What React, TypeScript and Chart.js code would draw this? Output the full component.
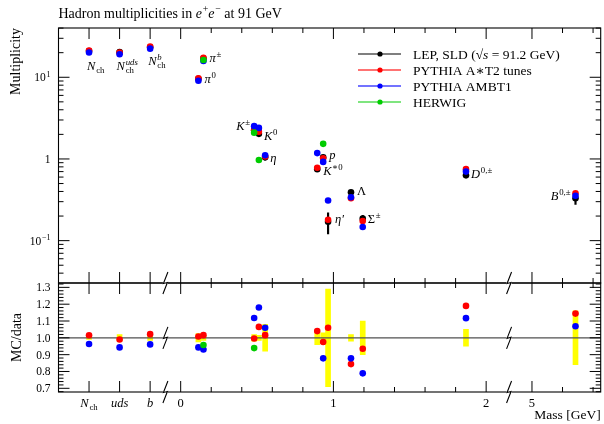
import React, { useEffect, useRef } from "react";
import { Chart, registerables } from "chart.js";
Chart.register(...registerables);

const W = 604;
const H = 424;
const SERIF = '"Liberation Serif", "DejaVu Serif", serif';

// ---------------- data ----------------
const particles = ["Nch", "Nch_uds", "Nch_b", "pi0", "pi+-", "K+-", "K0", "eta", "K*0", "p", "eta'", "Lambda", "Sigma+-", "D0,+-", "B0,+-"];
const massGeV: (number | null)[] = [null, null, null, 0.116, 0.149, 0.481, 0.512, 0.553, 0.894, 0.933, 0.965, 1.115, 1.192, 1.868, 5.285];
const dataMult = [20.9, 20.3, 23.3, 9.6, 17.0, 2.24, 2.03, 1.05, 0.75, 1.05, 0.17, 0.39, 0.186, 0.63, 0.33];
const dataRelErr = [0.01, 0.02, 0.015, 0.025, 0.015, 0.02, 0.015, 0.08, 0.04, 0.03, 0.29, 0.02, 0.1, 0.05, 0.16];
const mcA: (number | null)[] = [21.2, 20.1, 23.8, 9.7, 17.3, 2.23, 2.16, 1.07, 0.78, 1.02, 0.18, 0.33, 0.174, 0.75, 0.38];
const mcB: (number | null)[] = [20.1, 19.1, 22.4, 9.05, 15.8, 2.52, 2.4, 1.11, 1.18, 0.92, 0.31, 0.34, 0.147, 0.7, 0.355];
const mcH: (number | null)[] = [null, null, null, null, 16.3, 2.1, 0.97, null, null, 1.53, null, null, null, null, null];
const ratioA: (number | null)[] = [1.015, 0.99, 1.022, 1.008, 1.016, 0.996, 1.065, 1.016, 1.04, 0.975, 1.06, 0.844, 0.935, 1.19, 1.144];
const ratioB: (number | null)[] = [0.963, 0.943, 0.961, 0.943, 0.931, 1.118, 1.18, 1.06, null, 0.878, null, 0.878, 0.789, 1.117, 1.069];
const ratioH: (number | null)[] = [null, null, null, null, 0.957, 0.939, null, null, null, null, null, null, null, null, null];

const seriesNames = ["LEP, SLD", "PYTHIA A\u2217T2 tunes", "PYTHIA AMBT1", "HERWIG"];
const seriesColors = ["#000000", "#ff0000", "#0000ff", "#00cc00"];

// broken x axis: three category slots, then mass in GeV with a gap between 2 and 5 GeV
const catSlots = [-0.6, -0.4, -0.2];
const massGap = 2.7;
const toAxis = (m: number) => (m >= 4 ? m - massGap : m);
const xAxisPos = particles.map((_, i) => (massGeV[i] == null ? catSlots[i] : toAxis(massGeV[i] as number)));
const xMin = -0.8;
const xMax = 2.75;
const breaksAxis = [-0.1, 2.15];
const xMajor = [-0.6, -0.4, -0.2, 0, 1, 2, toAxis(5)];
const xMinor = [0.2, 0.4, 0.6, 0.8, 1.2, 1.4, 1.6, 1.8, toAxis(5.2), toAxis(5.4)];

const yUpMin = 0.0303;
const yUpMax = 40.1;
const yLoMin = 0.678;
const yLoMax = 1.326;
const yLoMajor = [0.7, 0.8, 0.9, 1.0, 1.1, 1.2, 1.3];

// ---------------- rich text ----------------
type Part = { t?: string; it?: boolean; sup?: string; sub?: string; supIt?: boolean; subIt?: boolean };
const fnt = (size: number, it?: boolean) => `${it ? "italic " : ""}${size}px ${SERIF}`;
function partW(ctx: CanvasRenderingContext2D, p: Part, size: number) {
  let w = 0;
  if (p.t) { ctx.font = fnt(size, p.it); w += ctx.measureText(p.t).width; }
  let sw = 0;
  if (p.sup) { ctx.font = fnt(size * 0.7, p.supIt); sw = Math.max(sw, ctx.measureText(p.sup).width); }
  if (p.sub) { ctx.font = fnt(size * 0.7, p.subIt); sw = Math.max(sw, ctx.measureText(p.sub).width); }
  return w + (sw ? sw + 0.8 : 0);
}
function drawParts(ctx: CanvasRenderingContext2D, x: number, y: number, parts: Part[], size: number, align = "left") {
  let total = 0;
  for (const p of parts) total += partW(ctx, p, size);
  let cx = align === "left" ? x : align === "right" ? x - total : x - total / 2;
  ctx.textAlign = "left";
  ctx.textBaseline = "alphabetic";
  for (const p of parts) {
    if (p.t) { ctx.font = fnt(size, p.it); ctx.fillText(p.t, cx, y); cx += ctx.measureText(p.t).width; }
    let sw = 0;
    if (p.sup) { ctx.font = fnt(size * 0.7, p.supIt); ctx.fillText(p.sup, cx + 0.8, y - size * 0.4); sw = Math.max(sw, ctx.measureText(p.sup).width); }
    if (p.sub) { ctx.font = fnt(size * 0.7, p.subIt); ctx.fillText(p.sub, cx + 0.8, y + size * 0.25); sw = Math.max(sw, ctx.measureText(p.sub).width); }
    if (sw) cx += sw + 0.8;
  }
}

// particle labels: text parts + offset from the data point (pixels)
const pLabels: { i: number; parts: Part[]; dx: number; dy: number; align?: string }[] = [
  { i: 0, parts: [{ t: "N", it: true, sub: "ch" }], dx: -2, dy: 19 },
  { i: 1, parts: [{ t: "N", it: true, sub: "ch", sup: "uds", supIt: true }], dx: -3, dy: 18 },
  { i: 2, parts: [{ t: "N", it: true, sub: "ch", sup: "b", supIt: true }], dx: -2, dy: 18 },
  { i: 3, parts: [{ t: "\u03c0", it: true, sup: "0" }], dx: 6, dy: 4 },
  { i: 4, parts: [{ t: "\u03c0", it: true, sup: "\u00b1" }], dx: 6, dy: 4 },
  { i: 5, parts: [{ t: "K", it: true, sup: "\u00b1" }], dx: -4, dy: 0, align: "right" },
  { i: 6, parts: [{ t: "K", it: true, sup: "0" }], dx: 5, dy: 6 },
  { i: 7, parts: [{ t: "\u03b7", it: true }], dx: 5, dy: 5 },
  { i: 8, parts: [{ t: "K", it: true, sup: "\u22170" }], dx: 6, dy: 6 },
  { i: 9, parts: [{ t: "p", it: true }], dx: 6, dy: 2 },
  { i: 10, parts: [{ t: "\u03b7\u2032", it: true }], dx: 7, dy: 1 },
  { i: 11, parts: [{ t: "\u039b" }], dx: 6, dy: 3 },
  { i: 12, parts: [{ t: "\u03a3", sup: "\u00b1" }], dx: 5, dy: 4 },
  { i: 13, parts: [{ t: "D", it: true, sup: "0,\u00b1" }], dx: 5, dy: 3 },
  { i: 14, parts: [{ t: "B", it: true, sup: "0,\u00b1" }], dx: -5, dy: 2, align: "right" },
];

const xLabels: { v: number; parts: Part[] }[] = [
  { v: -0.6, parts: [{ t: "N", it: true, sub: "ch" }] },
  { v: -0.4, parts: [{ t: "uds", it: true }] },
  { v: -0.2, parts: [{ t: "b", it: true }] },
  { v: 0, parts: [{ t: "0" }] },
  { v: 1, parts: [{ t: "1" }] },
  { v: 2, parts: [{ t: "2" }] },
  { v: toAxis(5), parts: [{ t: "5" }] },
];

// ---------------- helpers ----------------
const pts = (vals: (number | null)[]) =>
  vals.map((v, i) => (v == null ? null : { x: xAxisPos[i], y: v })).filter((p) => p !== null);

function line(ctx: CanvasRenderingContext2D, x1: number, y1: number, x2: number, y2: number) {
  ctx.beginPath(); ctx.moveTo(x1, y1); ctx.lineTo(x2, y2); ctx.stroke();
}
function xTicks(ctx: CanvasRenderingContext2D, xs: any, y: number, dir: number) {
  for (const v of xMajor) { const p = xs.getPixelForValue(v); line(ctx, p, y, p, y + dir * 11); }
  for (const v of xMinor) { const p = xs.getPixelForValue(v); line(ctx, p, y, p, y + dir * 5); }
}
function yTicks(ctx: CanvasRenderingContext2D, ys: any, left: number, right: number, majors: number[], minors: number[]) {
  for (const v of majors) { const p = ys.getPixelForValue(v); line(ctx, left, p, left + 11, p); line(ctx, right, p, right - 11, p); }
  for (const v of minors) { const p = ys.getPixelForValue(v); line(ctx, left, p, left + 5, p); line(ctx, right, p, right - 5, p); }
}
function zig(ctx: CanvasRenderingContext2D, x: number, y: number) {
  ctx.save();
  ctx.fillStyle = "#fff";
  ctx.fillRect(x - 2.5, y - 2, 5, 4);
  ctx.strokeStyle = "#000";
  ctx.lineWidth = 1.1;
  ctx.beginPath();
  ctx.moveTo(x + 2.5, y - 11);
  ctx.lineTo(x - 2, y + 0.5);
  ctx.lineTo(x + 2, y - 0.5);
  ctx.lineTo(x - 2.5, y + 11);
  ctx.stroke();
  ctx.restore();
}

const upperDecor = {
  id: "upperDecor",
  afterDraw(chart: any) {
    const ctx: CanvasRenderingContext2D = chart.ctx;
    const { left, right, top, bottom } = chart.chartArea;
    const xs = chart.scales.x;
    const ys = chart.scales.y;
    ctx.save();
    ctx.strokeStyle = "#000";
    ctx.fillStyle = "#000";
    ctx.lineWidth = 1.1;
    ctx.strokeRect(left, top, right - left, bottom - top);
    ctx.lineWidth = 1;
    xTicks(ctx, xs, top, 1);
    xTicks(ctx, xs, bottom, -1);
    const majors = [0.1, 1, 10];
    const minors: number[] = [];
    for (let e = -2; e <= 1; e++) for (let k = 2; k <= 9; k++) { const v = k * Math.pow(10, e); if (v > yUpMin && v < yUpMax) minors.push(v); }
    yTicks(ctx, ys, left, right, majors, minors);
    // y tick labels
    const lx = left - 8;
    drawParts(ctx, lx, ys.getPixelForValue(10) + 4, [{ t: "10", sup: "1" }], 11.5, "right");
    drawParts(ctx, lx, ys.getPixelForValue(1) + 4, [{ t: "1" }], 11.5, "right");
    drawParts(ctx, lx, ys.getPixelForValue(0.1) + 4, [{ t: "10", sup: "\u22121" }], 11.5, "right");
    // title
    drawParts(ctx, left, 18, [{ t: "Hadron multiplicities in " }, { t: "e", it: true, sup: "+" }, { t: "e", it: true, sup: "\u2212" }, { t: " at 91 GeV" }], 14);
    // y title
    ctx.save();
    ctx.translate(19.5, top);
    ctx.rotate(-Math.PI / 2);
    ctx.font = fnt(14);
    ctx.textAlign = "right";
    ctx.textBaseline = "alphabetic";
    ctx.fillText("Multiplicity", 0, 0);
    ctx.restore();
    // particle labels
    for (const L of pLabels) {
      const px = xs.getPixelForValue(xAxisPos[L.i]);
      const py = ys.getPixelForValue(dataMult[L.i]);
      drawParts(ctx, px + L.dx, py + L.dy, L.parts, 12.5, L.align || "left");
    }
    // legend
    const rows = [54, 70, 86, 102];
    for (let i = 0; i < 4; i++) {
      const y = rows[i];
      ctx.strokeStyle = i === 1 ? "rgba(255,0,0,0.55)" : i === 2 ? "rgba(0,0,255,0.55)" : seriesColors[i];
      ctx.lineWidth = i === 1 || i === 2 ? 2.2 : 1.2;
      line(ctx, 358, y, 401, y);
      ctx.fillStyle = seriesColors[i];
      ctx.beginPath(); ctx.arc(380, y, 2.6, 0, Math.PI * 2); ctx.fill();
      ctx.fillStyle = "#000";
      if (i === 0) {
        drawParts(ctx, 413, y + 4.5, [{ t: "LEP, SLD (\u221a" }, { t: "s", it: true }, { t: " = 91.2 GeV)" }], 13.5);
      } else {
        drawParts(ctx, 413, y + 4.5, [{ t: seriesNames[i] }], 13.5);
      }
    }
    ctx.restore();
  },
};

const lowerDecor = {
  id: "lowerDecor",
  afterDatasetDraw(chart: any, args: any) {
    if (args.index !== 0) return;
    const ctx: CanvasRenderingContext2D = chart.ctx;
    const { left, right } = chart.chartArea;
    const y = chart.scales.y.getPixelForValue(1);
    ctx.save();
    ctx.strokeStyle = "#505050";
    ctx.lineWidth = 1.4;
    line(ctx, left, y, right, y);
    ctx.restore();
  },
  afterDraw(chart: any) {
    const ctx: CanvasRenderingContext2D = chart.ctx;
    const { left, right, top, bottom } = chart.chartArea;
    const xs = chart.scales.x;
    const ys = chart.scales.y;
    ctx.save();
    ctx.strokeStyle = "#000";
    ctx.fillStyle = "#000";
    ctx.lineWidth = 1.1;
    ctx.strokeRect(left, top, right - left, bottom - top);
    ctx.lineWidth = 1;
    xTicks(ctx, xs, top, 1);
    xTicks(ctx, xs, bottom, -1);
    const minors: number[] = [];
    for (let k = 34; k <= 66; k++) { if (k % 5 !== 0) { const v = k * 0.02; if (v > yLoMin && v < yLoMax) minors.push(v); } }
    yTicks(ctx, ys, left, right, yLoMajor, minors);
    for (const b of breaksAxis) {
      const bx = xs.getPixelForValue(b);
      zig(ctx, bx, top);
      zig(ctx, bx, ys.getPixelForValue(1));
      zig(ctx, bx, bottom);
    }
    for (const v of yLoMajor) drawParts(ctx, left - 8, ys.getPixelForValue(v) + 4, [{ t: v.toFixed(1) }], 11.5, "right");
    for (const L of xLabels) drawParts(ctx, xs.getPixelForValue(L.v), 406.5, L.parts, 12.5, "center");
    drawParts(ctx, right, 419, [{ t: "Mass [GeV]" }], 13.5, "right");
    ctx.save();
    ctx.translate(20.5, (top + bottom) / 2);
    ctx.rotate(-Math.PI / 2);
    ctx.font = fnt(14);
    ctx.textAlign = "center";
    ctx.textBaseline = "alphabetic";
    ctx.fillText("MC/data", 0, 0);
    ctx.restore();
    ctx.restore();
  },
};

const pointDs = (vals: (number | null)[], color: string, order: number, label: string) => ({
  type: "scatter",
  label,
  data: pts(vals),
  backgroundColor: color,
  borderColor: color,
  borderWidth: 0,
  pointRadius: 3.3,
  pointHoverRadius: 3.3,
  order,
});

function upperConfig(): any {
  return {
    type: "scatter",
    data: {
      datasets: [
        pointDs(dataMult, seriesColors[0], 4, seriesNames[0]),
        {
          type: "bar",
          label: "data errors",
          data: dataMult.map((d, i) => ({ x: xAxisPos[i], y: [d * (1 - dataRelErr[i]), d * (1 + dataRelErr[i])] })),
          backgroundColor: "#000",
          barThickness: 1.5,
          grouped: false,
          order: 5,
        },
        pointDs(mcA, seriesColors[1], 3, seriesNames[1]),
        pointDs(mcB, seriesColors[2], 2, seriesNames[2]),
        pointDs(mcH, seriesColors[3], 1, seriesNames[3]),
      ],
    },
    options: {
      responsive: false,
      animation: false,
      devicePixelRatio: 1,
      events: [],
      layout: { padding: { left: 58.5, right: 1, top: 28, bottom: H - 283 } },
      scales: {
        x: { type: "linear", min: xMin, max: xMax, display: false, offset: false },
        y: { type: "logarithmic", min: yUpMin, max: yUpMax, display: false },
      },
      plugins: { legend: { display: false }, tooltip: { enabled: false }, title: { display: false } },
    },
    plugins: [upperDecor],
  };
}

function lowerConfig(): any {
  return {
    type: "scatter",
    data: {
      datasets: [
        {
          type: "bar",
          label: "data uncertainty",
          data: dataRelErr.map((e, i) => ({ x: xAxisPos[i], y: [1 - e, 1 + e] })),
          backgroundColor: "#ffff00",
          barThickness: 5,
          grouped: false,
          order: 10,
        },
        pointDs(ratioA, seriesColors[1], 3, seriesNames[1]),
        pointDs(ratioB, seriesColors[2], 2, seriesNames[2]),
        pointDs(ratioH, seriesColors[3], 1, seriesNames[3]),
      ],
    },
    options: {
      responsive: false,
      animation: false,
      devicePixelRatio: 1,
      events: [],
      layout: { padding: { left: 58.5, right: 1, top: 283, bottom: H - 392 } },
      scales: {
        x: { type: "linear", min: xMin, max: xMax, display: false, offset: false },
        y: { type: "linear", min: yLoMin, max: yLoMax, display: false },
      },
      plugins: { legend: { display: false }, tooltip: { enabled: false }, title: { display: false } },
    },
    plugins: [lowerDecor],
  };
}

export default function App() {
  const r1 = useRef<HTMLCanvasElement>(null);
  const r2 = useRef<HTMLCanvasElement>(null);
  useEffect(() => {
    const c1 = new Chart(r1.current as HTMLCanvasElement, upperConfig());
    const c2 = new Chart(r2.current as HTMLCanvasElement, lowerConfig());
    return () => {
      c1.destroy();
      c2.destroy();
    };
  }, []);
  return (
    <div style={{ position: "absolute", left: 0, top: 0, width: W, height: H, background: "#fff" }}>
      <canvas ref={r1} width={W} height={H} style={{ position: "absolute", left: 0, top: 0 }} />
      <canvas ref={r2} width={W} height={H} style={{ position: "absolute", left: 0, top: 0 }} />
    </div>
  );
}
